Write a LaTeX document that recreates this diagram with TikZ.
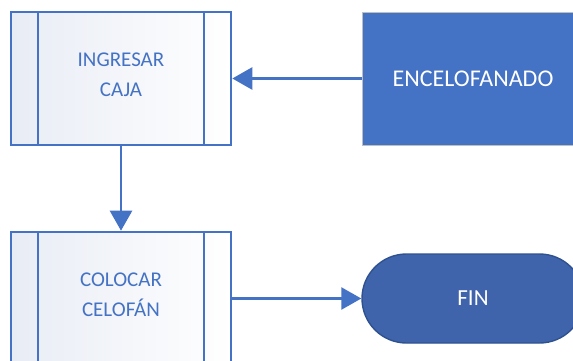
\documentclass[tikz,border=0pt]{standalone}
\usepackage{fontspec}
\setmainfont{Carlito}
\usetikzlibrary{arrows.meta,shapes.misc}
\definecolor{flowblue}{HTML}{4472C4}
\definecolor{termblue}{HTML}{3F64AC}
\definecolor{termedge}{HTML}{2F528F}
\definecolor{panelgrey}{HTML}{E8ECF5}
\tikzset{
  x=1pt, y=-1pt,
  procbox/.style={draw=flowblue, line width=2.6pt, rectangle,
    left color=panelgrey, middle color=white, right color=white,
    minimum width=220pt, minimum height=133pt, inner sep=0pt,
    text depth=8pt,
    align=center, text=flowblue, font=\fontsize{21}{30}\selectfont,
    path picture={
      \draw[flowblue, line width=2.6pt]
        ([xshift=27pt]path picture bounding box.north west) --
        ([xshift=27pt]path picture bounding box.south west);
      \draw[flowblue, line width=2.6pt]
        ([xshift=-27pt]path picture bounding box.north east) --
        ([xshift=-27pt]path picture bounding box.south east);
    }},
  databox/.style={draw=black!25, line width=0.8pt, fill=flowblue,
    minimum width=222pt, minimum height=133pt, inner sep=0pt,
    text=white, font=\fontsize{24}{28}\selectfont},
  terminal/.style={draw=termedge, line width=1.4pt, fill=termblue,
    rounded rectangle, minimum width=222pt, minimum height=89pt,
    inner sep=0pt, text=white, font=\fontsize{23}{28}\selectfont},
  flow/.style={draw=flowblue, line width=2.6pt,
    -{Triangle[length=20pt,width=22pt]}}
}
\begin{document}
\begin{tikzpicture}
  \useasboundingbox (0,0) rectangle (573,361);
  \clip (0,0) rectangle (573,361);

  % process steps
  \node[procbox] (ingresar) at (121,78.5) {INGRESAR\\CAJA};
  \node[procbox] (colocar) at (121,298.5) {COLOCAR\\CELOFÁN};

  % incoming item and end of the flow
  \node[databox] (encelo) at (473,78.5) {ENCELOFANADO};
  \node[terminal] (fin) at (473,298.5) {FIN};

  % connectors
  \draw[flow] (encelo.west) -- (ingresar.east);
  \draw[flow] (ingresar.south) -- (colocar.north);
  \draw[flow] (colocar.east) -- (fin.west);
\end{tikzpicture}
\end{document}
